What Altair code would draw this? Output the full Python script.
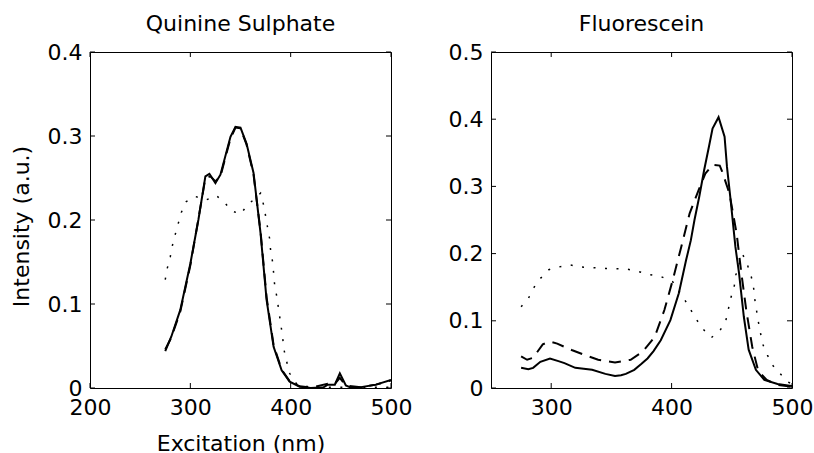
import altair as alt
import pandas as pd

# ---------------- Data ----------------
# Quinine Sulphate panel
qs_solid_x = [275, 281, 290, 300, 308, 315, 319, 325, 330, 340, 345, 350, 356, 363, 370, 376, 383, 391, 399, 409,
              420, 433, 437, 444, 449, 455, 460, 470, 485, 500]
qs_solid_y = [0.044, 0.061, 0.093, 0.148, 0.200, 0.252, 0.255, 0.244, 0.254, 0.299, 0.311, 0.310, 0.291, 0.256,
              0.184, 0.105, 0.049, 0.021, 0.0075, 0.0016, 0.0, 0.001, 0.004, 0.004, 0.0175, 0.003, 0.0005, 0.001,
              0.004, 0.0095]
qs_dash_x = [275, 281, 290, 300, 308, 315, 320, 325, 330, 340, 345, 350, 356, 363, 370, 376, 383, 391, 399, 409,
             420, 437, 444, 449, 455, 470, 485, 500]
qs_dash_y = [0.046, 0.060, 0.091, 0.146, 0.201, 0.250, 0.252, 0.246, 0.252, 0.297, 0.310, 0.309, 0.290, 0.254,
             0.186, 0.108, 0.051, 0.022, 0.008, 0.002, 0.0005, 0.005, 0.005, 0.012, 0.003, 0.001, 0.004, 0.009]
qs_dot_x = [275, 277, 280, 282, 285, 288, 291, 296, 305, 316, 326, 334, 341, 350, 357, 363, 370, 373, 375, 377,
            379, 380, 382, 383, 384, 386, 391, 394, 399, 405, 410, 430, 460, 500]
qs_dot_y = [0.129, 0.1425, 0.156, 0.169, 0.183, 0.196, 0.209, 0.222, 0.228, 0.224, 0.229, 0.221, 0.211, 0.207,
            0.218, 0.224, 0.232, 0.218, 0.205, 0.191, 0.178, 0.164, 0.150, 0.137, 0.123, 0.110, 0.069, 0.041,
            0.0175, 0.006, 0.002, 0.001, 0.001, 0.001]

# Fluorescein panel
fl_solid_x = [275, 281, 285, 291, 299, 306, 311, 320, 334, 345, 353, 358, 362, 369, 375, 380, 385, 391, 399, 406,
              412, 416, 419, 423, 427, 431, 434, 439, 444, 446, 449, 453, 456, 460, 464, 470, 477, 488, 498, 500]
fl_solid_y = [0.030, 0.028, 0.030, 0.039, 0.044, 0.040, 0.037, 0.030, 0.027, 0.021, 0.018, 0.019, 0.021, 0.027,
              0.036, 0.044, 0.055, 0.071, 0.101, 0.141, 0.190, 0.220, 0.250, 0.285, 0.324, 0.359, 0.386, 0.403,
              0.374, 0.329, 0.280, 0.210, 0.171, 0.106, 0.057, 0.027, 0.012, 0.006, 0.0035, 0.003]
fl_dash_x = [275, 280, 285, 293, 299, 305, 317, 328, 339, 353, 366, 376, 386, 394, 401, 408, 415, 423, 428, 434,
             440, 442, 447, 449, 454, 458, 462, 467, 472, 479, 488, 499, 500]
fl_dash_y = [0.047, 0.042, 0.045, 0.065, 0.069, 0.066, 0.0565, 0.049, 0.042, 0.038, 0.042, 0.054, 0.076, 0.116,
             0.161, 0.210, 0.260, 0.297, 0.319, 0.332, 0.331, 0.322, 0.295, 0.280, 0.230, 0.170, 0.116, 0.061,
             0.025, 0.012, 0.0045, 0.002, 0.002]
fl_dot_x = [275, 281, 285, 291, 298, 306, 316, 325, 345, 363, 373, 381, 391, 401, 411, 416, 421, 426.5, 433, 440,
            445, 447, 449, 452, 453.3, 456, 459, 463, 466, 468, 469, 470.5, 472, 475.5, 479.6, 483.8, 489.8,
            496.2, 500]
fl_dot_y = [0.121, 0.133, 0.148, 0.163, 0.176, 0.180, 0.183, 0.180, 0.178, 0.177, 0.173, 0.169, 0.166, 0.158,
            0.131, 0.116, 0.101, 0.087, 0.075, 0.085, 0.100, 0.116, 0.133, 0.151, 0.168, 0.183, 0.199, 0.183,
            0.167, 0.151, 0.133, 0.116, 0.099, 0.066, 0.049, 0.034, 0.022, 0.0094, 0.006]

titles = ["Quinine Sulphate", "Fluorescein"]
x_label = "Excitation (nm)"
y_label = "Intensity (a.u.)"
qs_xdomain = [200, 500]
qs_ydomain = [0, 0.4]
qs_xticks = [200, 300, 400, 500]
qs_yticks = [0, 0.1, 0.2, 0.3, 0.4]
fl_xdomain = [250, 500]
fl_ydomain = [0, 0.5]
fl_xticks = [300, 400, 500]
fl_yticks = [0, 0.1, 0.2, 0.3, 0.4, 0.5]

# ---------------- Styling ----------------
FONT = "DejaVu Sans"
FS = 22
W, H = 301, 336
TICK = 5


def panel(title, xdom, ydom, xticks, yticks, series, show_xtitle, show_ytitle):
    xs = alt.Scale(domain=xdom, nice=False, zero=False)
    ys = alt.Scale(domain=ydom, nice=False, zero=False)
    xaxis = alt.Axis(values=xticks, format="d", grid=False, ticks=False, domain=False,
                     labelFont=FONT, labelFontSize=FS, labelColor="black", labelPadding=9,
                     labelFlush=False, labelOverlap=False,
                     title=x_label if show_xtitle else None,
                     titleFont=FONT, titleFontSize=FS, titleFontWeight="normal", titleColor="black",
                     titleBaseline="alphabetic", titleY=62)
    yaxis = alt.Axis(values=yticks, format=".1~f", grid=False, ticks=False, domain=False,
                     labelFont=FONT, labelFontSize=FS, labelColor="black", labelPadding=8,
                     labelFlush=False, labelOverlap=False,
                     title=y_label if show_ytitle else None,
                     titleFont=FONT, titleFontSize=FS, titleFontWeight="normal", titleColor="black",
                     titleX=-57, titleY=174)
    layers = []
    for xv, yv, dash, sw in series:
        df = pd.DataFrame({"x": xv, "y": yv})
        kw = dict(color="black", strokeWidth=sw, clip=True, strokeCap="butt")
        if dash is not None:
            kw["strokeDash"] = dash
        layers.append(
            alt.Chart(df).mark_line(**kw).encode(
                x=alt.X("x:Q", scale=xs, axis=xaxis),
                y=alt.Y("y:Q", scale=ys, axis=yaxis),
            )
        )
    # inward tick marks on all four sides (box style)
    ydf = pd.DataFrame({"y": yticks})
    xdf = pd.DataFrame({"x": xticks})
    tk = dict(color="black", strokeWidth=1)
    layers.append(alt.Chart(ydf).mark_rule(**tk).encode(
        y=alt.Y("y:Q", scale=ys, axis=yaxis), x=alt.value(0), x2=alt.value(TICK)))
    layers.append(alt.Chart(ydf).mark_rule(**tk).encode(
        y=alt.Y("y:Q", scale=ys, axis=yaxis), x=alt.value(W - TICK), x2=alt.value(W)))
    layers.append(alt.Chart(xdf).mark_rule(**tk).encode(
        x=alt.X("x:Q", scale=xs, axis=xaxis), y=alt.value(0), y2=alt.value(TICK)))
    layers.append(alt.Chart(xdf).mark_rule(**tk).encode(
        x=alt.X("x:Q", scale=xs, axis=xaxis), y=alt.value(H - TICK), y2=alt.value(H)))
    return alt.layer(*layers).properties(
        width=W, height=H,
        title=alt.TitleParams(title, font=FONT, fontSize=FS, fontWeight="normal", color="black",
                              frame="group", baseline="alphabetic", offset=-12),
    )


SOLID_W = 2
DASH = [12, 8]
DOT = [2, 9.5]

left = panel(titles[0], qs_xdomain, qs_ydomain, qs_xticks, qs_yticks,
             [(qs_dot_x, qs_dot_y, DOT, 1.5),
              (qs_dash_x, qs_dash_y, DASH, 2),
              (qs_solid_x, qs_solid_y, None, SOLID_W)],
             True, True)
right = panel(titles[1], fl_xdomain, fl_ydomain, fl_xticks, fl_yticks,
              [(fl_dot_x, fl_dot_y, DOT, 1.5),
               (fl_dash_x, fl_dash_y, DASH, 2),
               (fl_solid_x, fl_solid_y, None, SOLID_W)],
              False, False)

chart = alt.hconcat(left, right, spacing=100, bounds="flush").properties(
    padding={"left": 9, "top": 12, "right": 0, "bottom": 0},
    background="white",
).configure_view(stroke="black", strokeWidth=1).resolve_scale(x="independent", y="independent")

chart.save("out.html", embed_options={"renderer": "svg", "actions": False})
